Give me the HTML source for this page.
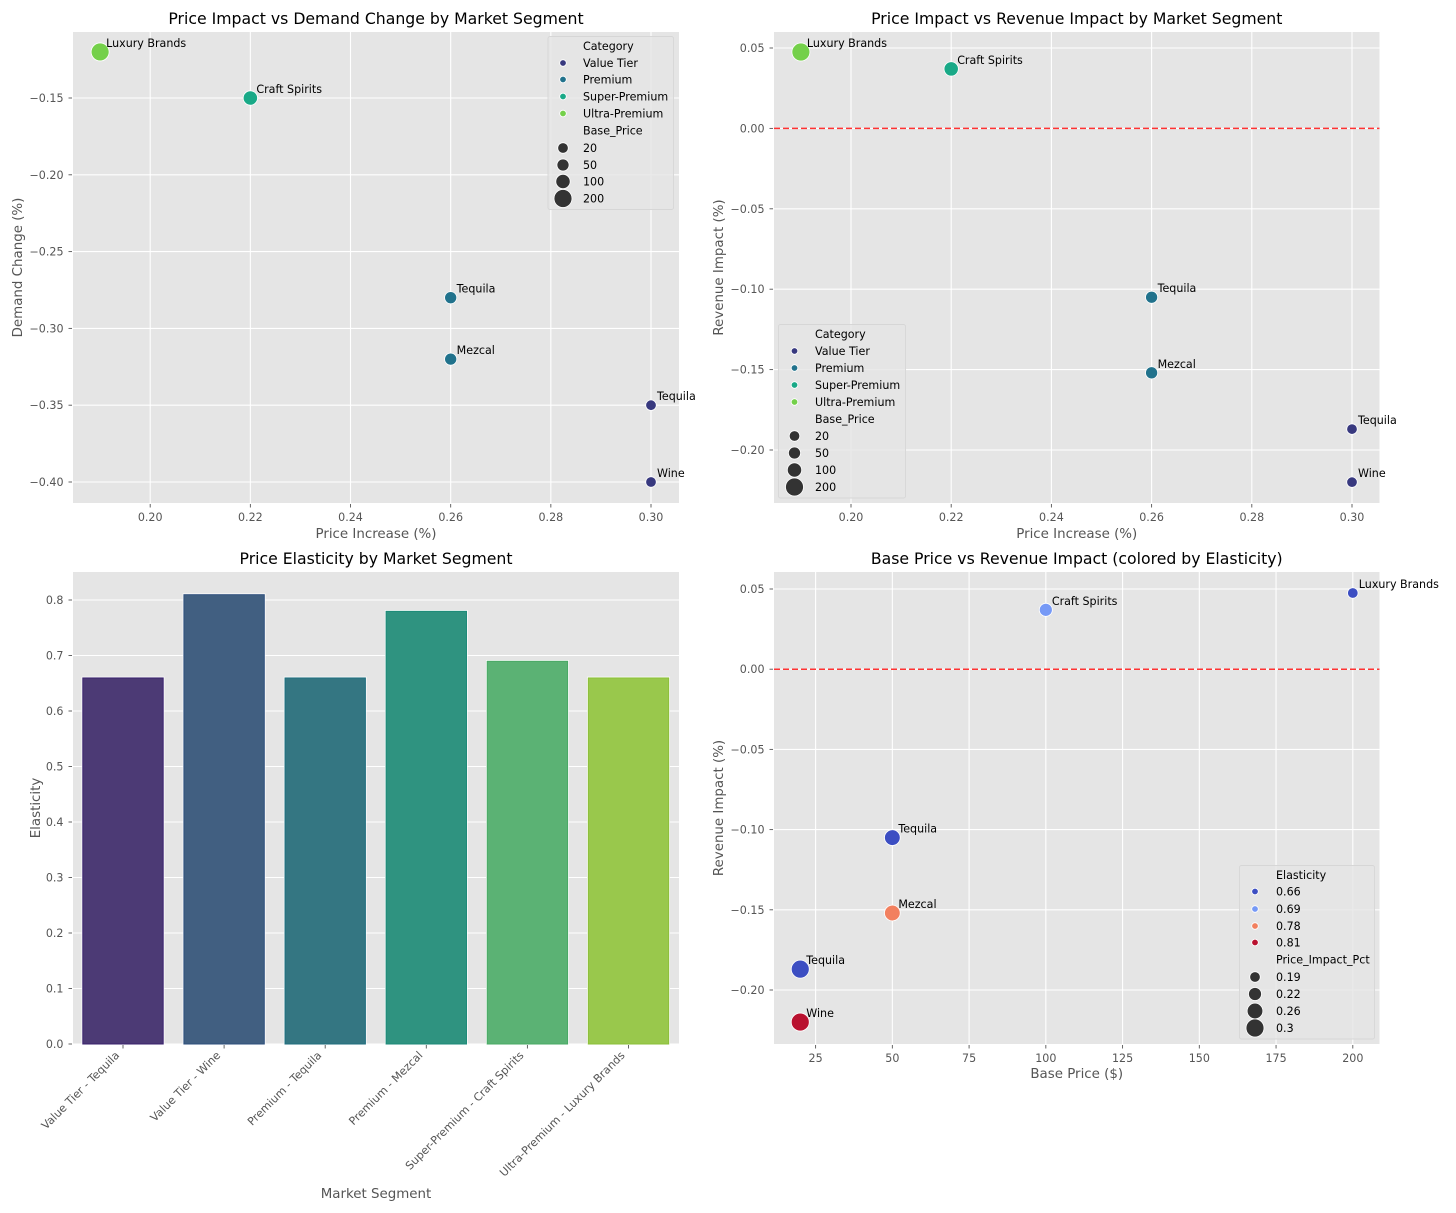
<!DOCTYPE html>
<html lang="en">
<head>
<meta charset="utf-8">
<title>Price Impact Analysis by Market Segment</title>
<style>
html,body{margin:0;padding:0;background:#fff;}
svg{display:block;font-family:"DejaVu Sans","Liberation Sans",sans-serif;}
</style>
</head>
<body>
<svg id="chart" xmlns="http://www.w3.org/2000/svg" width="1456" height="1213" viewBox="0 0 1456 1213"></svg>
<script>
// Data
const products = ["Tequila", "Wine", "Tequila", "Mezcal", "Craft Spirits", "Luxury Brands"];
const categories = ["Value Tier", "Value Tier", "Premium", "Premium", "Super-Premium", "Ultra-Premium"];
const segmentLabels = ["Value Tier - Tequila", "Value Tier - Wine", "Premium - Tequila", "Premium - Mezcal", "Super-Premium - Craft Spirits", "Ultra-Premium - Luxury Brands"];
const priceIncrease = [0.30, 0.30, 0.26, 0.26, 0.22, 0.19];
const demandChange = [-0.35, -0.40, -0.28, -0.32, -0.15, -0.12];
const revenueImpact = [-0.187, -0.22, -0.105, -0.152, 0.037, 0.0475];
const elasticity = [0.66, 0.81, 0.66, 0.78, 0.69, 0.66];
const basePrice = [20, 20, 50, 50, 100, 200];

const categoryLegend = ["Value Tier", "Premium", "Super-Premium", "Ultra-Premium"];
const categoryColors = ["#38397f", "#21728c", "#19a987", "#74d04a"];
const basePriceLegend = [20, 50, 100, 200];
const elasticityLegend = [0.66, 0.69, 0.78, 0.81];
const elasticityColors = ["#3c4ec2", "#7699f6", "#f2805f", "#b9112f"];
const impactLegend = [0.19, 0.22, 0.26, 0.3];
const barColors = ["#4c3a75", "#415f81", "#347682", "#2f9380", "#5bb274", "#99c84c"];
const barEdges = ["#38206c", "#2d4f7c", "#1f6e7e", "#1c8a78", "#48a964", "#8bbf38"];

const priceTicks = [0.20, 0.22, 0.24, 0.26, 0.28, 0.30];
const demandTicks = [-0.15, -0.20, -0.25, -0.30, -0.35, -0.40];
const revenueTicks = [0.05, 0.00, -0.05, -0.10, -0.15, -0.20];
const elasticityTicks = [0.0, 0.1, 0.2, 0.3, 0.4, 0.5, 0.6, 0.7, 0.8];
const baseTicks = [25, 50, 75, 100, 125, 150, 175, 200];

const NS = "http://www.w3.org/2000/svg";
const root = document.getElementById("chart");
const TICK_FONT = "11.1px";

function make(tag, attrs, parent, text) {
  const el = document.createElementNS(NS, tag);
  for (const k in attrs) el.setAttribute(k, attrs[k]);
  if (text !== undefined) el.textContent = text;
  (parent || root).appendChild(el);
  return el;
}
function label(v, d) {
  return (v < 0 ? "\u2212" : "") + Math.abs(v).toFixed(d);
}
function linear(d0, p0, d1, p1) {
  return v => p0 + (v - d0) * (p1 - p0) / (d1 - d0);
}
function radius(v, min, max) {
  return Math.sqrt(28 + 53 * (v - min) / (max - min));
}

function panel(name, box, title, xTitle, yTitle, xLabelY, yLabelX) {
  const g = make("g", {});
  
  
  const bg = make("rect", {x: box.l, y: box.t, width: box.r - box.l, height: box.b - box.t, fill: "#e5e5e5"}, g);
  
  
  const t = make("text", {x: (box.l + box.r) / 2, y: box.t - 8, "text-anchor": "middle", "font-size": "15.7px", fill: "#000"}, g, title);
  
  
  const xt = make("text", {x: (box.l + box.r) / 2, y: xLabelY, "text-anchor": "middle", "font-size": "13.4px", fill: "#555"}, g, xTitle);
  
  
  const ym = (box.t + box.b) / 2;
  const yt = make("text", {x: yLabelX, y: ym, "text-anchor": "middle", "font-size": "13.4px", fill: "#555", transform: "rotate(-90 " + yLabelX + " " + ym + ")"}, g, yTitle);
  
  
  return g;
}
function xAxis(g, box, ticks, sx, fmt) {
  ticks.forEach(v => {
    const x = sx(v);
    const line = make("line", {x1: x, x2: x, y1: box.t, y2: box.b, stroke: "#fff", "stroke-width": 1.1}, g);
    
    
    const mark = make("line", {x1: x, x2: x, y1: box.b + 1, y2: box.b + 4.5, stroke: "#555", "stroke-width": 0.9}, g);
    
    
    const txt = make("text", {x: x, y: box.b + 18, "text-anchor": "middle", "font-size": TICK_FONT, fill: "#555"}, g, fmt(v));
    
    
  });
}
function yAxis(g, box, ticks, sy, fmt) {
  ticks.forEach(v => {
    const y = sy(v);
    const line = make("line", {x1: box.l, x2: box.r, y1: y, y2: y, stroke: "#fff", "stroke-width": 1.1}, g);
    
    
    const mark = make("line", {x1: box.l - 4.5, x2: box.l - 1, y1: y, y2: y, stroke: "#555", "stroke-width": 0.9}, g);
    
    
    const txt = make("text", {x: box.l - 9.5, y: y + 4, "text-anchor": "end", "font-size": TICK_FONT, fill: "#555"}, g, fmt(v));
    
    
  });
}
function zeroLine(g, box, sy) {
  const l = make("line", {x1: box.l, x2: box.r, y1: sy(0), y2: sy(0), stroke: "#ff3333", "stroke-width": 1.5, "stroke-dasharray": "6 3"}, g);
  
  
}
function point(g, x, y, r, color, name) {
  const c = make("circle", {cx: x, cy: y, r: r, fill: color, stroke: "#fff", "stroke-width": 0.8}, g);
  
  
}
function annotate(g, x, y, text) {
  const t = make("text", {x: x + 6, y: y - 5, "font-size": TICK_FONT, fill: "#000"}, g, text);
  
  
}
function legend(g, name, b, markerX, textX, rowY, title1, items1, colors, title2, items2, fmt2) {
  const lg = make("g", {}, g);
  
  
  const frame = make("rect", {x: b.x, y: b.y, width: b.w, height: b.h, rx: 2, ry: 2, fill: "#e5e5e5", "fill-opacity": 0.8, stroke: "#d6d6d6", "stroke-width": 0.9}, lg);
  
  
  function row(i, text, isHeader) {
    const t = make("text", {x: textX, y: rowY[i] + 4, "font-size": TICK_FONT, fill: "#000"}, lg, text);
    
    
  }
  row(0, title1, true);
  items1.forEach((it, i) => {
    row(i + 1, String(it), false);
    const m = make("circle", {cx: markerX, cy: rowY[i + 1], r: 3.3, fill: colors[i], stroke: "#fff", "stroke-width": 0.8}, lg);
    
    
  });
  row(5, title2, true);
  const min = items2[0], max = items2[items2.length - 1];
  items2.forEach((it, i) => {
    row(i + 6, fmt2(it), false);
    const m = make("circle", {cx: markerX, cy: rowY[i + 6], r: radius(it, min, max), fill: "#333", stroke: "#fff", "stroke-width": 0.8}, lg);
    
    
  });
}
const catColor = c => categoryColors[categoryLegend.indexOf(c)];
const elaColor = e => elasticityColors[elasticityLegend.indexOf(e)];
const baseMin = Math.min(...basePriceLegend), baseMax = Math.max(...basePriceLegend);
const impactMin = Math.min(...impactLegend), impactMax = Math.max(...impactLegend);
const fmt2d = v => label(v, 2);

// Panel 1: price vs demand
(function () {
  const box = {l: 73, r: 679, t: 32, b: 503};
  const g = panel("demand-scatter-panel", box, "Price Impact vs Demand Change by Market Segment", "Price Increase (%)", "Demand Change (%)", 538, 22);
  const sx = linear(0.20, 150.2, 0.30, 651);
  const sy = linear(-0.15, 98, -0.40, 482);
  xAxis(g, box, priceTicks, sx, fmt2d);
  yAxis(g, box, demandTicks, sy, fmt2d);
  products.forEach((p, i) => {
    point(g, sx(priceIncrease[i]), sy(demandChange[i]), radius(basePrice[i], baseMin, baseMax), catColor(categories[i]), "demand-point");
    annotate(g, sx(priceIncrease[i]), sy(demandChange[i]), p);
  });
  legend(g, "category-legend", {x: 548, y: 36.5, w: 125.5, h: 173}, 563, 583,
    [46, 63, 79.5, 96.5, 113.5, 130.5, 148, 165, 181.5, 198.5],
    "Category", categoryLegend, categoryColors, "Base_Price", basePriceLegend, String);
})();

// Panel 2: price vs revenue
(function () {
  const box = {l: 774, r: 1379.5, t: 32, b: 503};
  const g = panel("revenue-scatter-panel", box, "Price Impact vs Revenue Impact by Market Segment", "Price Increase (%)", "Revenue Impact (%)", 538, 723);
  const sx = linear(0.20, 851, 0.30, 1352);
  const sy = linear(0.05, 48, -0.20, 450);
  xAxis(g, box, priceTicks, sx, fmt2d);
  yAxis(g, box, revenueTicks, sy, fmt2d);
  zeroLine(g, box, sy);
  products.forEach((p, i) => {
    point(g, sx(priceIncrease[i]), sy(revenueImpact[i]), radius(basePrice[i], baseMin, baseMax), catColor(categories[i]), "revenue-point");
    annotate(g, sx(priceIncrease[i]), sy(revenueImpact[i]), p);
  });
  legend(g, "category-legend", {x: 778.5, y: 324.5, w: 127, h: 173.5}, 794.5, 815,
    [334, 351, 368, 385, 402, 419, 436, 453, 470, 487],
    "Category", categoryLegend, categoryColors, "Base_Price", basePriceLegend, String);
})();

// Panel 3: elasticity bars
(function () {
  const box = {l: 73, r: 679, t: 572, b: 1044};
  const g = panel("elasticity-bar-panel", box, "Price Elasticity by Market Segment", "Market Segment", "Elasticity", 1198, 40);
  const sy = linear(0, 1044, 0.8, 600);
  const sx = linear(0, 123, 5, 628.5);
  const band = sx(1) - sx(0);
  yAxis(g, box, elasticityTicks, sy, v => v.toFixed(1));
  segmentLabels.forEach((s, i) => {
    const cx = sx(i);
    const w = band * 0.8;
    const top = sy(elasticity[i]);
    const halo = make("rect", {x: cx - w / 2 - 0.5, y: top - 0.5, width: w + 1, height: box.b - top + 0.5, fill: "none", stroke: "#fff", "stroke-width": 0.9}, g);
    
    
    const bar = make("rect", {x: cx - w / 2 + 0.25, y: top + 0.25, width: w - 0.5, height: box.b - top - 0.25, fill: barColors[i], stroke: barEdges[i], "stroke-width": 1}, g);
    
    
    const mark = make("line", {x1: cx, x2: cx, y1: box.b + 1, y2: box.b + 4.5, stroke: "#555", "stroke-width": 0.9}, g);
    
    
    const ty = box.b + 12;
    const tx = cx - 3;
    const lab = make("text", {x: tx, y: ty, "text-anchor": "end", "font-size": TICK_FONT, fill: "#555", transform: "rotate(-45 " + tx + " " + ty + ")"}, g, s);
    
    
  });
})();

// Panel 4: base price vs revenue
(function () {
  const box = {l: 774, r: 1379.5, t: 572, b: 1044};
  const g = panel("base-price-scatter-panel", box, "Base Price vs Revenue Impact (colored by Elasticity)", "Base Price ($)", "Revenue Impact (%)", 1078, 723);
  const sx = linear(25, 815.6, 200, 1352.8);
  const sy = linear(0.05, 589, -0.20, 990);
  xAxis(g, box, baseTicks, sx, String);
  yAxis(g, box, revenueTicks, sy, fmt2d);
  zeroLine(g, box, sy);
  products.forEach((p, i) => {
    point(g, sx(basePrice[i]), sy(revenueImpact[i]), radius(priceIncrease[i], impactMin, impactMax), elaColor(elasticity[i]), "base-price-point");
    annotate(g, sx(basePrice[i]), sy(revenueImpact[i]), p);
  });
  legend(g, "elasticity-legend", {x: 1239.5, y: 865.5, w: 135, h: 173.5}, 1255, 1276,
    [875, 891.5, 909, 926, 942.5, 959.5, 977, 994, 1011, 1028],
    "Elasticity", elasticityLegend, elasticityColors, "Price_Impact_Pct", impactLegend, String);
})();
</script>
</body>
</html>
